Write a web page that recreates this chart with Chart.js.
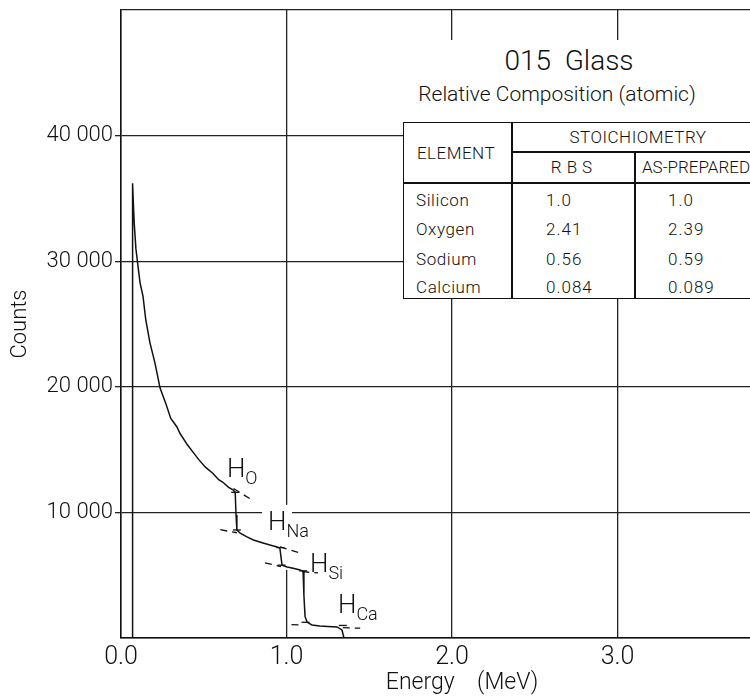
<!DOCTYPE html>
<html>
<head>
<meta charset="utf-8">
<script src="https://cdn.jsdelivr.net/npm/chart.js@4.4.0/dist/chart.umd.min.js"></script>
<style>
  html, body { margin: 0; padding: 0; background: #fff; overflow: hidden; }
  #wrap { position: relative; width: 750px; height: 696px; overflow: hidden;
          font-family: Roboto, "Liberation Sans", sans-serif; font-weight: 300; color: #111; }
  #chart { position: absolute; left: 0; top: 0; }
  .abs { position: absolute; white-space: nowrap; }
  .c { transform: translate(-50%, -50%); }
  .l { transform: translate(0, -50%); }
  .ln { position: absolute; background: #111; }
  #cover { position: absolute; left: 403px; top: 40px; width: 360px; height: 258px; background: #fff; }
  #tbl { position: absolute; left: 403px; top: 122px; width: 360px; height: 177px;
         border: 1.5px solid #111; box-sizing: border-box; }
  .cell { font-size: 17px; }
</style>
</head>
<body>
<div id="wrap">
  <canvas id="chart" width="750" height="696"></canvas>
  <div id="cover"></div>
  <div class="abs c" style="left:569px; top:60px; font-size:28px;">015&nbsp; Glass</div>
  <div class="abs c" style="left:557px; top:94px; font-size:21px;">Relative Composition (atomic)</div>
  <div id="tbl"></div>
  <div class="ln" style="left:511px; top:122px; width:1.5px; height:177px;"></div>
  <div class="ln" style="left:634px; top:152px; width:1.5px; height:147px;"></div>
  <div class="ln" style="left:511px; top:151px; width:250px; height:1.5px;"></div>
  <div class="ln" style="left:403px; top:182px; width:360px; height:1.5px;"></div>
  <div id="cells"></div>
</div>
<script>
// spectrum
const energy = [0.07, 0.07, 0.075, 0.08, 0.09, 0.10, 0.115, 0.133, 0.15, 0.175, 0.205, 0.236,
  0.27, 0.30, 0.338, 0.356, 0.40, 0.435, 0.47, 0.51, 0.556, 0.59, 0.616, 0.65, 0.677, 0.69,
  0.695, 0.70, 0.72, 0.761, 0.80, 0.858, 0.90, 0.943, 0.96, 0.968, 0.973, 1.003, 1.04, 1.082,
  1.10, 1.105, 1.112, 1.125, 1.154, 1.20, 1.25, 1.305, 1.335, 1.347];
const counts = [0, 36200, 34500, 33000, 31000, 29900, 28300, 27200, 25300, 23500, 21900, 19900,
  18700, 17500, 16800, 16300, 15400, 14800, 14200, 13600, 13100, 12600, 12400, 12000, 11800, 11600,
  9800, 8600, 8350, 8050, 7800, 7570, 7400, 7250, 7150, 6300, 5800, 5650, 5550, 5420,
  5300, 3400, 1700, 1250, 1040, 960, 920, 880, 640, 0];

// dashed extrapolation lines at each edge [[E1, C1], [E2, C2]]
const tangentO   = [[0.68, 11900], [0.79, 11000]];
const tangentOlo = [[0.60, 8620], [0.70, 8380]];
const tangentNa  = [[0.96, 7250], [1.08, 6770]];
const tangentNalo = [[0.87, 5980], [0.967, 5680]];
const tangentSi  = [[1.095, 5280], [1.19, 5180]];
const tangentSilo = [[1.03, 1060], [1.10, 1040]];
const tangentCa  = [[1.34, 820], [1.445, 780]];

// small bar marks at step ends
const stepMarks = [[0.69, 11600], [0.70, 8600], [0.963, 7200], [0.97, 5800], [1.10, 5350], [1.115, 1250], [1.34, 1000]];

// edge labels H_x, anchored at (energy, counts) of the H baseline-left
const edgeNames = ['O', 'Na', 'Si', 'Ca'];
const edgeLabelAt = [[0.64, 12830], [0.888, 8600], [1.142, 5260], [1.311, 1990]];

const xTicks = [0, 1, 2, 3];
const yTicks = [10000, 20000, 30000, 40000];

// table
const elements = ['Silicon', 'Oxygen', 'Sodium', 'Calcium'];
const rbs = ['1.0', '2.41', '0.56', '0.084'];
const asPrepared = ['1.0', '2.39', '0.59', '0.089'];

// build table text
const cells = document.getElementById('cells');
function addText(txt, x, y, cls, extra) {
  const d = document.createElement('div');
  d.className = 'abs cell ' + cls;
  d.style.left = x + 'px';
  d.style.top = y + 'px';
  if (extra) d.style.cssText += extra;
  d.textContent = txt;
  cells.appendChild(d);
}
addText('ELEMENT', 456, 153, 'c', 'letter-spacing:0.5px;');
addText('STOICHIOMETRY', 638, 137, 'c', 'letter-spacing:0.5px;');
addText('RBS', 574, 167, 'c', 'letter-spacing:5px;');
addText('AS-PREPARED', 696, 167, 'c', '');
const rowY = [200, 229, 259, 287];
elements.forEach((el, i) => {
  addText(el, 416, rowY[i], 'l', 'letter-spacing:0.6px;');
  addText(rbs[i], 546, rowY[i], 'l', 'letter-spacing:1px;');
  addText(asPrepared[i], 668, rowY[i], 'l', 'letter-spacing:1px;');
});

const FONT = 'Roboto';

function toPts(arr) { return arr.map(p => ({x: p[0], y: p[1]})); }
function dashed(arr) {
  return { data: toPts(arr), borderColor: '#111', borderWidth: 1.3, borderDash: [7, 5],
           pointRadius: 0, showLine: true, fill: false };
}

// white patch behind the H_Na label (grid is broken there)
const labelPatch = {
  id: 'labelPatch',
  beforeDatasetsDraw(chart) {
    const {ctx, scales: {x, y}} = chart;
    const x1 = x.getPixelForValue(0.852), x2 = x.getPixelForValue(1.033);
    const y1 = y.getPixelForValue(10600), y2 = y.getPixelForValue(5420);
    ctx.save();
    ctx.fillStyle = '#fff';
    ctx.fillRect(x1, y1, x2 - x1, y2 - y1);
    ctx.restore();
  }
};

// H labels with subscripts, x axis title
const edgeText = {
  id: 'edgeText',
  afterDatasetsDraw(chart) {
    const {ctx, scales: {x, y}} = chart;
    ctx.save();
    ctx.fillStyle = '#111';
    ctx.textBaseline = 'alphabetic';
    ctx.textAlign = 'left';
    edgeNames.forEach((nm, i) => {
      const px = x.getPixelForValue(edgeLabelAt[i][0]);
      const py = y.getPixelForValue(edgeLabelAt[i][1]);
      ctx.font = '300 26px ' + FONT;
      ctx.fillText('H', px, py);
      const w = ctx.measureText('H').width;
      ctx.font = '300 18px ' + FONT;
      ctx.fillText(nm, px + w, py + 7);
    });
    ctx.font = '300 23px ' + FONT;
    ctx.textAlign = 'center';
    ctx.textBaseline = 'middle';
    ctx.fillText('Energy    (MeV)', x.getPixelForValue(2.06), x.bottom - 13);
    ctx.restore();
  }
};

const ctx = document.getElementById('chart');

new Chart(ctx, {
  type: 'scatter',
  data: {
    datasets: [
      { data: energy.map((e, i) => ({x: e, y: counts[i]})), borderColor: '#111', borderWidth: 1.5,
        pointRadius: 0, showLine: true, fill: false, tension: 0 },
      dashed(tangentO), dashed(tangentOlo), dashed(tangentNa), dashed(tangentNalo),
      dashed(tangentSi), dashed(tangentSilo), dashed(tangentCa),
      { data: toPts(stepMarks), pointStyle: 'line', pointRadius: 4, borderColor: '#111',
        borderWidth: 1.3, showLine: false }
    ]
  },
  options: {
    responsive: false,
    animation: false,
    events: [],
    layout: { autoPadding: false, padding: { top: 10, right: 0, left: 0, bottom: 0 } },
    plugins: { legend: { display: false }, tooltip: { enabled: false } },
    scales: {
      x: {
        type: 'linear', min: 0, max: 3.8,
        afterFit: s => { s.height = 58; },
        afterBuildTicks: s => { s.ticks = xTicks.map(v => ({value: v})); },
        grid: { color: '#222', lineWidth: 1.3, drawTicks: false },
        border: { color: '#111', width: 1.5 },
        ticks: { color: '#111', padding: 5, font: { family: FONT, size: 25, weight: 300 },
                 callback: v => v.toFixed(1) }
      },
      y: {
        type: 'linear', min: 0, max: 50000,
        afterFit: s => { s.width = 121; s.paddingTop = 0; s.paddingBottom = 0; },
        afterBuildTicks: s => { s.ticks = [0].concat(yTicks, [50000]).map(v => ({value: v})); },
        grid: { color: '#222', lineWidth: 1.3, tickLength: 6,
                tickColor: c => (c.tick && (c.tick.value === 0 || c.tick.value === 50000)) ? 'rgba(0,0,0,0)' : '#222' },
        border: { color: '#111', width: 1.5 },
        title: { display: true, text: 'Counts', color: '#111', padding: { top: 7, bottom: 0 },
                 font: { family: FONT, size: 22, weight: 300 } },
        ticks: { color: '#111', padding: 2, font: { family: FONT, size: 22, weight: 300 },
                 callback: v => yTicks.includes(v) ? (v / 1000) + ' 000' : '' }
      }
    }
  },
  plugins: [labelPatch, edgeText]
});
</script>
</body>
</html>
